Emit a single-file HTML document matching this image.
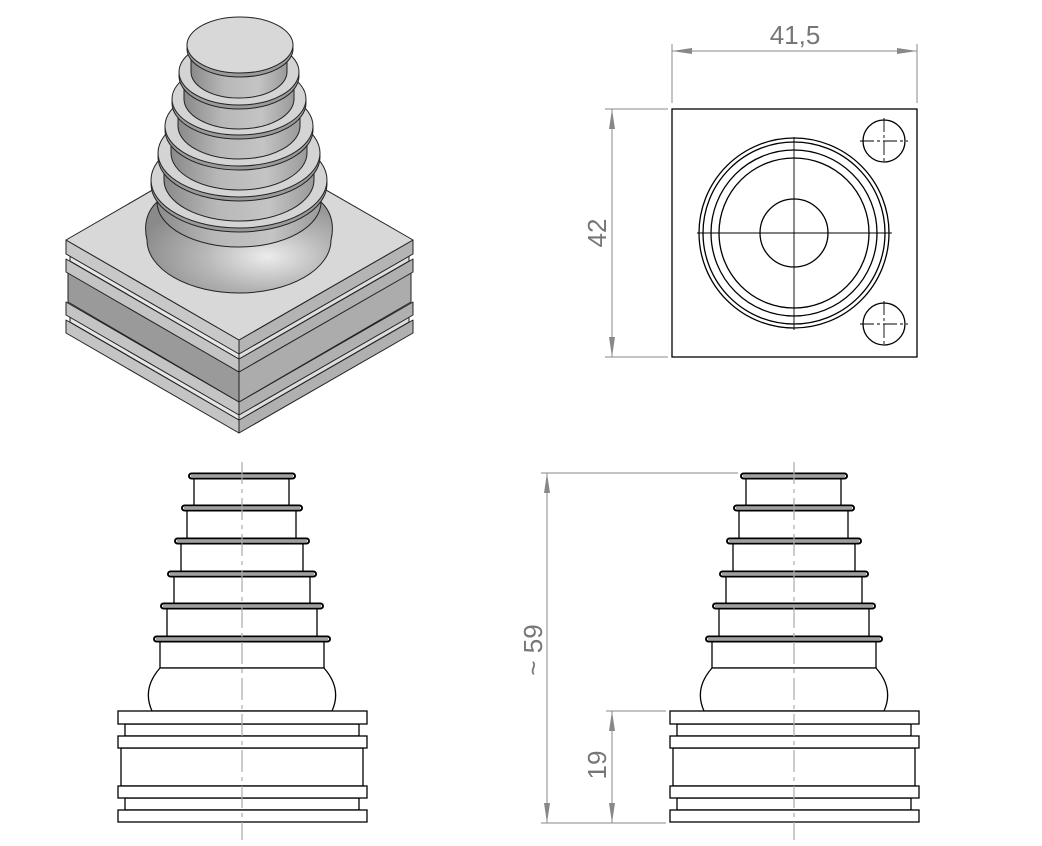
<!DOCTYPE html>
<html><head><meta charset="utf-8"><style>
html,body{margin:0;padding:0;background:#fff;width:1042px;height:846px;overflow:hidden}
svg{display:block}
text{font-family:"Liberation Sans",sans-serif;fill:#777}
</style></head><body>
<svg width="1042" height="846" viewBox="0 0 1042 846" xmlns="http://www.w3.org/2000/svg">
<defs>
<linearGradient id="cyl" x1="0" x2="1" y1="0" y2="0">
<stop offset="0" stop-color="#8a8a8a"/><stop offset="0.35" stop-color="#b8b8b8"/><stop offset="0.7" stop-color="#c4c4c4"/><stop offset="1" stop-color="#9a9a9a"/></linearGradient>
<radialGradient id="dome" cx="0.65" cy="0.6" r="0.7">
<stop offset="0" stop-color="#ececec"/><stop offset="0.5" stop-color="#b5b5b5"/><stop offset="1" stop-color="#8a8a8a"/></radialGradient>
<g id="fv" stroke="#000" stroke-width="1.3" fill="#fff">
<rect x="194" y="478.5" width="95" height="27"/>
<rect x="187" y="510.5" width="109" height="28"/>
<rect x="181" y="543.5" width="122" height="28"/>
<rect x="174" y="576.5" width="136" height="27"/>
<rect x="167" y="608.5" width="150" height="28"/>
<rect x="160" y="641.5" width="164" height="26.5"/>
<path d="M160,668 C145,685 147,700 152,711 L332,711 C337,700 339,685 324,668 Z"/>
<g stroke-width="2">
<rect x="189" y="473.5" width="106" height="5" rx="2.5"/>
<rect x="182" y="505.5" width="120" height="5" rx="2.5"/>
<rect x="175" y="538.5" width="134" height="5" rx="2.5"/>
<rect x="168" y="571.5" width="148" height="5" rx="2.5"/>
<rect x="161" y="603.5" width="162" height="5" rx="2.5"/>
<rect x="154" y="636.5" width="176" height="5" rx="2.5"/>
</g>
<g stroke-width="0.8">
<line x1="191" y1="476" x2="293" y2="476"/>
<line x1="184" y1="508" x2="300" y2="508"/>
<line x1="177" y1="541" x2="307" y2="541"/>
<line x1="170" y1="574" x2="314" y2="574"/>
<line x1="163" y1="606" x2="321" y2="606"/>
<line x1="156" y1="639" x2="328" y2="639"/>
</g>
<rect x="125" y="724" width="234" height="12"/>
<rect x="121" y="748" width="242" height="38"/>
<rect x="125" y="798" width="234" height="12"/>
<rect x="118" y="711" width="249" height="13"/>
<rect x="118" y="736" width="249" height="12"/>
<rect x="118" y="786" width="249" height="12"/>
<rect x="118" y="810" width="249" height="12"/>
<line x1="242" y1="462" x2="242" y2="840" stroke="#aaa" stroke-width="1.2" stroke-dasharray="22,5,4,5"/>
</g>
</defs>

<g stroke="#222" stroke-width="1" stroke-linejoin="round">
<polygon points="66,320 239,420 239,433 66,333" fill="#c4c4c4"/>
<polygon points="239,420 413,320 413,333 239,433" fill="#b0b0b0"/>
<polygon points="70,315 239,413 239,420 70,322" fill="#e6e6e6"/>
<polygon points="239,413 409,315 409,322 239,420" fill="#dedede"/>
<polygon points="66,302 239,402 239,415 66,315" fill="#c4c4c4"/>
<polygon points="239,402 413,302 413,315 239,415" fill="#b0b0b0"/>
<polygon points="68,272 239,372 239,402 68,302" fill="#9a9a9a"/>
<polygon points="239,372 411,272 411,302 239,402" fill="#acacac"/>
<polygon points="66,259 239,359 239,372 66,272" fill="#c4c4c4"/>
<polygon points="239,359 413,259 413,272 239,372" fill="#b0b0b0"/>
<polygon points="70,254 239,352 239,359 70,261" fill="#e6e6e6"/>
<polygon points="239,352 409,254 409,261 239,359" fill="#dedede"/>
<polygon points="66,240 239,340 239,354 66,254" fill="#c8c8c8"/>
<polygon points="239,340 413,240 413,254 239,354" fill="#b4b4b4"/>
<polygon points="66,240 239,140 413,240 239,340" fill="#d8d8d8"/>
<path d="M157,202 C143,215 145,232 147,240 A92 53 0 0 0 331 240 C333,232 335,215 321,202 Z" fill="url(#dome)"/>
<path d="M157,180 L157,202 A82 45 0 0 0 321 202 L321,180 Z" fill="url(#cyl)"/>
<ellipse cx="239" cy="184" rx="88" ry="48" fill="#9a9a9a"/>
<ellipse cx="239" cy="180" rx="88" ry="48" fill="#d4d4d4"/>
<path d="M164,153 L164,180 A75 41 0 0 0 314 180 L314,153 Z" fill="url(#cyl)"/>
<ellipse cx="239" cy="157" rx="81" ry="44" fill="#9a9a9a"/>
<ellipse cx="239" cy="153" rx="81" ry="44" fill="#d4d4d4"/>
<path d="M171,126 L171,153 A68 37 0 0 0 307 153 L307,126 Z" fill="url(#cyl)"/>
<ellipse cx="239" cy="130" rx="74" ry="40" fill="#9a9a9a"/>
<ellipse cx="239" cy="126" rx="74" ry="40" fill="#d4d4d4"/>
<path d="M178,99 L178,126 A61 33 0 0 0 300 126 L300,99 Z" fill="url(#cyl)"/>
<ellipse cx="239" cy="103" rx="67" ry="36" fill="#9a9a9a"/>
<ellipse cx="239" cy="99" rx="67" ry="36" fill="#d4d4d4"/>
<path d="M184,72 L184,99 A55 30 0 0 0 294 99 L294,72 Z" fill="url(#cyl)"/>
<ellipse cx="239" cy="76" rx="60" ry="33" fill="#9a9a9a"/>
<ellipse cx="239" cy="72" rx="60" ry="33" fill="#d4d4d4"/>
<path d="M191,45 L191,72 A48 26 0 0 0 287 72 L287,45 Z" fill="url(#cyl)"/>
<ellipse cx="240" cy="49" rx="53" ry="28" fill="#9a9a9a"/>
<ellipse cx="240" cy="45" rx="53" ry="28" fill="#d8d8d8"/>
</g>

<g stroke="#000" stroke-width="1.3" fill="none">
<rect x="672" y="109" width="245" height="248"/>
<circle cx="794" cy="233" r="95"/>
<circle cx="794" cy="233" r="91"/>
<circle cx="794" cy="233" r="83"/>
<circle cx="794" cy="233" r="75"/>
<circle cx="794" cy="233" r="34"/>
<circle cx="884" cy="141" r="21"/>
<circle cx="884" cy="324" r="21"/>
<g stroke-width="0.9">
<line x1="697" y1="233" x2="892" y2="233"/>
<line x1="794" y1="137" x2="794" y2="330"/>
<line x1="860" y1="141" x2="908" y2="141" stroke-dasharray="14,3,3,3"/>
<line x1="884" y1="118" x2="884" y2="164" stroke-dasharray="14,3,3,3"/>
<line x1="860" y1="324" x2="908" y2="324" stroke-dasharray="14,3,3,3"/>
<line x1="884" y1="301" x2="884" y2="347" stroke-dasharray="14,3,3,3"/>
</g>
</g>

<use href="#fv"/>
<use href="#fv" transform="translate(552,0)"/>

<g stroke="#888" stroke-width="1" fill="#888">
<line x1="672" y1="44" x2="672" y2="103"/>
<line x1="917" y1="44" x2="917" y2="103"/>
<line x1="672" y1="51" x2="917" y2="51"/>
<polygon points="672,51 692,48 692,54" stroke="none"/>
<polygon points="917,51 897,48 897,54" stroke="none"/>
<line x1="605" y1="109" x2="668" y2="109"/>
<line x1="605" y1="357" x2="668" y2="357"/>
<line x1="612" y1="109" x2="612" y2="357"/>
<polygon points="612,109 609,129 615,129" stroke="none"/>
<polygon points="612,357 609,337 615,337" stroke="none"/>
<line x1="541" y1="473" x2="738" y2="473"/>
<line x1="541" y1="823" x2="666" y2="823"/>
<line x1="547" y1="473" x2="547" y2="823"/>
<polygon points="547,473 544,493 550,493" stroke="none"/>
<polygon points="547,823 544,803 550,803" stroke="none"/>
<line x1="606" y1="711" x2="666" y2="711"/>
<line x1="612" y1="711" x2="612" y2="823"/>
<polygon points="612,711 609,731 615,731" stroke="none"/>
<polygon points="612,823 609,803 615,803" stroke="none"/>
</g>
<text x="795" y="44" font-size="26" text-anchor="middle">41,5</text>
<text transform="translate(606,233) rotate(-90)" font-size="26" text-anchor="middle">42</text>
<text transform="translate(542,650) rotate(-90)" font-size="26" text-anchor="middle">~ 59</text>
<text transform="translate(606,765) rotate(-90)" font-size="26" text-anchor="middle">19</text>
</svg>
</body></html>
